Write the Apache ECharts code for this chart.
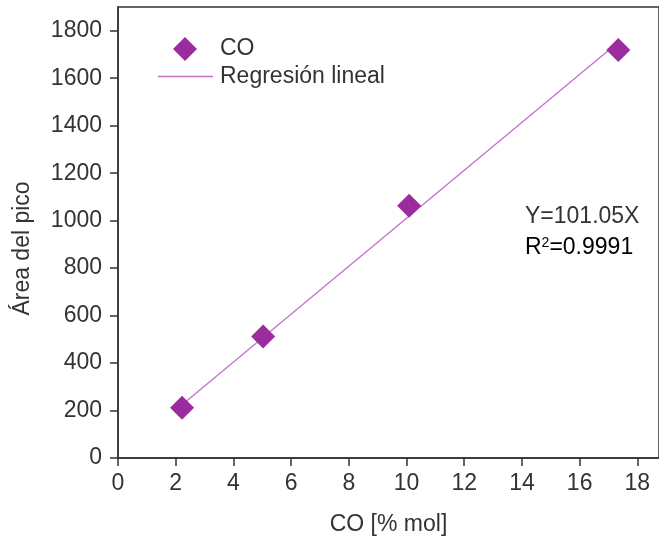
<!DOCTYPE html>
<html><head><meta charset="utf-8">
<script src="https://cdn.jsdelivr.net/npm/echarts@6/dist/echarts.min.js"></script>
<style>html,body{margin:0;padding:0;background:#fff}#c{width:659px;height:544px}</style>
</head><body><div id="c"></div>
<script>
const coX = [2.22, 5.03, 10.09, 17.34];
const areaY = [212, 512, 1063, 1719];
const fitX = [2.2, 17.34];
const fitY = [222, 1752];
const xTicks = [0,2,4,6,8,10,12,14,16,18];
const yTicks = [0,200,400,600,800,1000,1200,1400,1600,1800];

const font = '"Liberation Sans", Arial, sans-serif';
const FS = 23;
const txt = '#333';
const chart = echarts.init(document.getElementById('c'));
chart.setOption({
  animation: false,
  grid: {left: 118, right: 0, top: 7, bottom: 86, show: true, borderColor: '#333', borderWidth: 1.5},
  legend: [
    {data: ['CO'], left: 173, top: 37, padding: 0, icon: 'diamond', itemWidth: 24, itemHeight: 24,
     textStyle: {fontFamily: font, fontSize: FS, color: txt, padding: [0,0,0,18]}},
    {data: ['Regresión lineal'], left: 158, top: 65, padding: 0, icon: 'rect', itemWidth: 55, itemHeight: 1.4,
     textStyle: {fontFamily: font, fontSize: FS, color: txt, padding: [0,0,0,2]}}
  ],
  xAxis: {
    type: 'value', min: 0, max: 18.75, interval: 2,
    name: 'CO [% mol]', nameLocation: 'middle', nameGap: 55,
    nameTextStyle: {fontFamily: font, fontSize: FS, color: txt},
    axisLine: {lineStyle: {color: '#333', width: 1.5}},
    axisTick: {show: true, length: 8, lineStyle: {color: '#333', width: 1.5}},
    axisLabel: {fontFamily: font, fontSize: FS, color: txt, margin: 14, showMaxLabel: false,
      formatter: v => xTicks.includes(v) ? String(v) : ''},
    splitLine: {show: false}
  },
  yAxis: {
    type: 'value', min: 0, max: 1900, interval: 200,
    name: 'Área del pico', nameLocation: 'middle', nameGap: 84,
    nameTextStyle: {fontFamily: font, fontSize: FS, color: txt, padding: [0, 32, 0, 0]},
    axisLine: {lineStyle: {color: '#333', width: 1.5}},
    axisTick: {show: true, length: 8, lineStyle: {color: '#333', width: 1.5}},
    axisLabel: {fontFamily: font, fontSize: FS, color: txt, margin: 16, showMaxLabel: false,
      formatter: v => yTicks.includes(v) ? String(v) : ''},
    splitLine: {show: false}
  },
  series: [
    {name: 'Regresión lineal', type: 'line', data: fitX.map((x,i)=>[x, fitY[i]]),
     symbol: 'none', lineStyle: {color: '#c46fcc', width: 1.3}, itemStyle: {color: '#c46fcc'}, z: 2},
    {name: 'CO', type: 'scatter', data: coX.map((x,i)=>[x, areaY[i]]),
     symbol: 'diamond', symbolSize: 24, itemStyle: {color: '#9c2c9e', opacity: 1}, z: 3}
  ],
  graphic: [
    {type: 'text', left: 525, top: 205, style: {text: 'Y=101.05X', font: FS + 'px ' + font, fill: txt}},
    {type: 'text', left: 525, top: 236, style: {
      text: '{a|R}{s|2}{a|=0.9991}',
      rich: {a: {fontFamily: font, fontSize: FS, color: txt},
             s: {fontFamily: font, fontSize: 14, color: txt, verticalAlign: 'top', padding: [0,0,9,0]}}}}
  ]
});
</script></body></html>
